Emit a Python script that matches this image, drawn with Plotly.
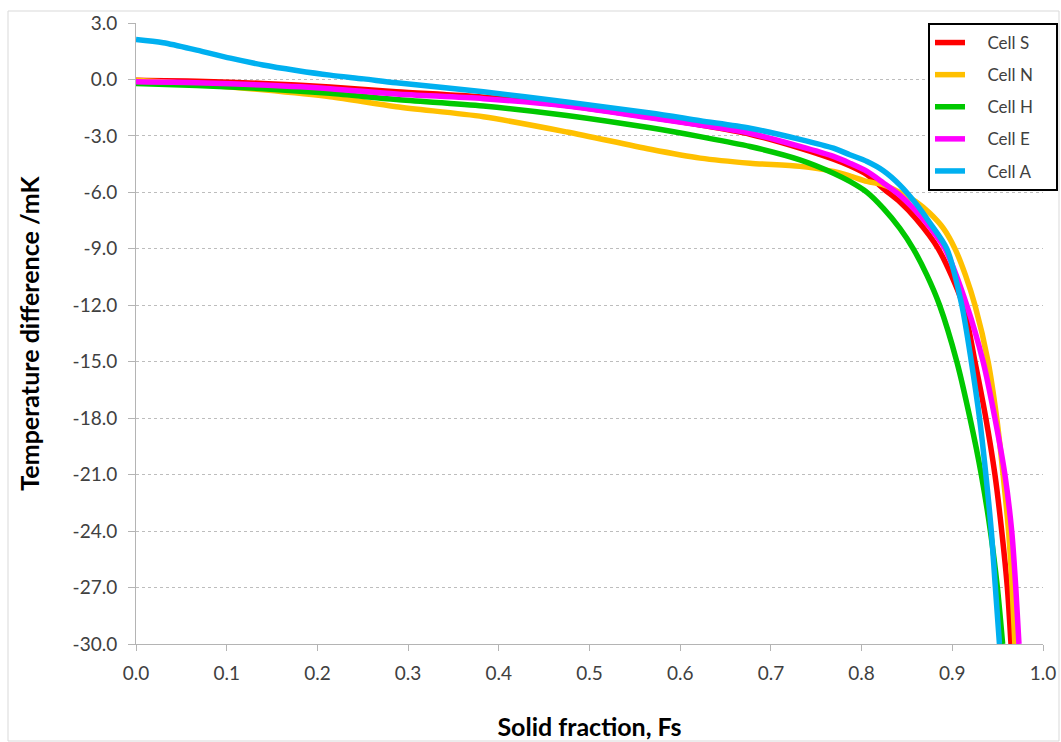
import plotly.graph_objects as go

# ---- data ----
fs_S = [0, 0.067, 0.14, 0.214, 0.287, 0.383, 0.475, 0.567, 0.622, 0.677, 0.732, 0.769, 0.787,
        0.806, 0.824, 0.842, 0.86, 0.8846, 0.912, 0.925, 0.937, 0.947, 0.9545, 0.9607, 0.9647]
T_S = [-0.04, -0.09, -0.21, -0.4, -0.65, -0.94, -1.38, -2.01, -2.42, -2.91, -3.65, -4.24, -4.59,
       -5.06, -5.8, -6.5, -7.4, -9.0, -12.0, -15.0, -18.0, -21.0, -24.0, -27.0, -30.0]

fs_N = [0, 0.067, 0.14, 0.214, 0.287, 0.383, 0.475, 0.567, 0.622, 0.677, 0.732, 0.769, 0.787,
        0.806, 0.824, 0.842, 0.86, 0.875, 0.89, 0.903, 0.9145, 0.925, 0.9395, 0.949, 0.956, 0.962,
        0.966, 0.969]
T_N = [-0.04, -0.25, -0.55, -0.92, -1.45, -1.98, -2.79, -3.71, -4.18, -4.45, -4.62, -4.89, -5.12,
       -5.42, -5.6, -6.0, -6.5, -7.1, -7.9, -9.0, -10.4, -12.0, -15.0, -18.0, -21.0, -24.0,
       -27.0, -30.0]

fs_H = [0, 0.067, 0.14, 0.214, 0.287, 0.383, 0.475, 0.567, 0.622, 0.677, 0.732, 0.769, 0.787,
        0.806, 0.824, 0.842, 0.857, 0.872, 0.886, 0.905, 0.9195, 0.932, 0.942, 0.9497, 0.9555]
T_H = [-0.21, -0.32, -0.49, -0.74, -1.07, -1.41, -1.91, -2.57, -3.04, -3.56, -4.27, -4.98, -5.42,
       -6.0, -6.85, -7.9, -9.0, -10.4, -12.0, -15.0, -18.0, -21.0, -24.0, -27.0, -30.0]

fs_E = [0, 0.067, 0.14, 0.214, 0.287, 0.383, 0.475, 0.567, 0.622, 0.677, 0.732, 0.769, 0.787,
        0.806, 0.824, 0.842, 0.86, 0.876, 0.892, 0.916, 0.934, 0.947, 0.958, 0.9655, 0.970, 0.9735]
T_E = [-0.12, -0.17, -0.3, -0.49, -0.77, -1.02, -1.41, -2.04, -2.42, -2.86, -3.56, -4.09, -4.45,
       -4.89, -5.5, -6.15, -7.0, -7.9, -9.0, -12.0, -15.0, -18.0, -21.0, -24.0, -27.0, -30.0]

fs_A = [0, 0.03, 0.067, 0.104, 0.14, 0.177, 0.214, 0.251, 0.287, 0.383, 0.475, 0.567, 0.622,
        0.677, 0.732, 0.769, 0.787, 0.806, 0.824, 0.842, 0.86, 0.875, 0.894, 0.9105, 0.921, 0.930,
        0.937, 0.943, 0.9475, 0.952]
T_A = [2.12, 1.95, 1.56, 1.13, 0.77, 0.48, 0.23, 0.03, -0.18, -0.65, -1.2, -1.78, -2.19,
       -2.59, -3.18, -3.65, -4.0, -4.36, -4.85, -5.6, -6.6, -7.6, -9.0, -12.0, -15.0, -18.0,
       -21.0, -24.0, -27.0, -30.0]

series = [
    ("Cell S", fs_S, T_S, "#FF0000"),
    ("Cell N", fs_N, T_N, "#FFC000"),
    ("Cell H", fs_H, T_H, "#00C800"),
    ("Cell E", fs_E, T_E, "#FF00FF"),
    ("Cell A", fs_A, T_A, "#00B0F0"),
]

x_ticks = [0.0, 0.1, 0.2, 0.3, 0.4, 0.5, 0.6, 0.7, 0.8, 0.9, 1.0]
y_ticks = [3.0, 0.0, -3.0, -6.0, -9.0, -12.0, -15.0, -18.0, -21.0, -24.0, -27.0, -30.0]

FONT = "Lato"
NB = "\u00a0"

fig = go.Figure()
for i, (name, xs, ys, col) in enumerate(series):
    fig.add_trace(go.Scatter(
        x=xs, y=ys, name=NB * 4 + name + NB * 4, mode="lines", legendgroup=f"g{i}",
        line=dict(color=col, width=5.5, shape="spline", smoothing=0.8),
    ))

L, R, T, B = 136, 18, 23, 98
W, H = 1061, 742
pw, ph = W - L - R, H - T - B

def px_x(x):
    return (x - L) / pw

def px_y(y):
    return (H - B - y) / ph

fig.update_layout(
    width=W, height=H,
    margin=dict(l=L, r=R, t=T, b=B, autoexpand=False),
    paper_bgcolor="white", plot_bgcolor="white",
    font=dict(family=FONT, size=15, color="#404040"),
    showlegend=True,
    legend=dict(
        x=px_x(928), y=px_y(23), xanchor="left", yanchor="top",
        bgcolor="white", bordercolor="black", borderwidth=2,
        font=dict(family=FONT, size=17, color="#404040"),
        traceorder="grouped", tracegroupgap=7,
        itemwidth=30,
    ),
    shapes=[dict(type="rect", xref="paper", yref="paper",
                 x0=px_x(8), x1=px_x(1059), y0=px_y(741), y1=px_y(11),
                 line=dict(color="#D9D9D9", width=1), layer="below")],
)

fig.update_xaxes(
    range=[0, 1], tickvals=x_ticks, ticktext=[f"{v:.1f}" for v in x_ticks],
    showgrid=False, zeroline=False,
    showline=True, linecolor="#B4B4B4", linewidth=1,
    ticks="outside", ticklen=6, tickcolor="#B4B4B4",
    tickfont=dict(family=FONT, size=19, color="#404040"),
    ticklabelstandoff=6,
    title=dict(text="<b>Solid fraction, Fs</b>", font=dict(family=FONT, size=25, color="black"),
               standoff=35),
)
fig.update_yaxes(
    range=[-30, 3], tickvals=y_ticks, ticktext=[f"{v:.1f}" for v in y_ticks],
    showgrid=True, gridcolor="#BDBDBD", griddash="dot", gridwidth=1,
    zeroline=False,
    showline=True, linecolor="#B4B4B4", linewidth=1,
    ticks="outside", ticklen=7, tickcolor="#B4B4B4",
    tickfont=dict(family=FONT, size=19, color="#404040"),
    ticklabelstandoff=7,
    title=dict(text="<b>Temperature difference /mK</b>", font=dict(family=FONT, size=25, color="black"),
               standoff=25),
)

fig.write_html("out.html")
